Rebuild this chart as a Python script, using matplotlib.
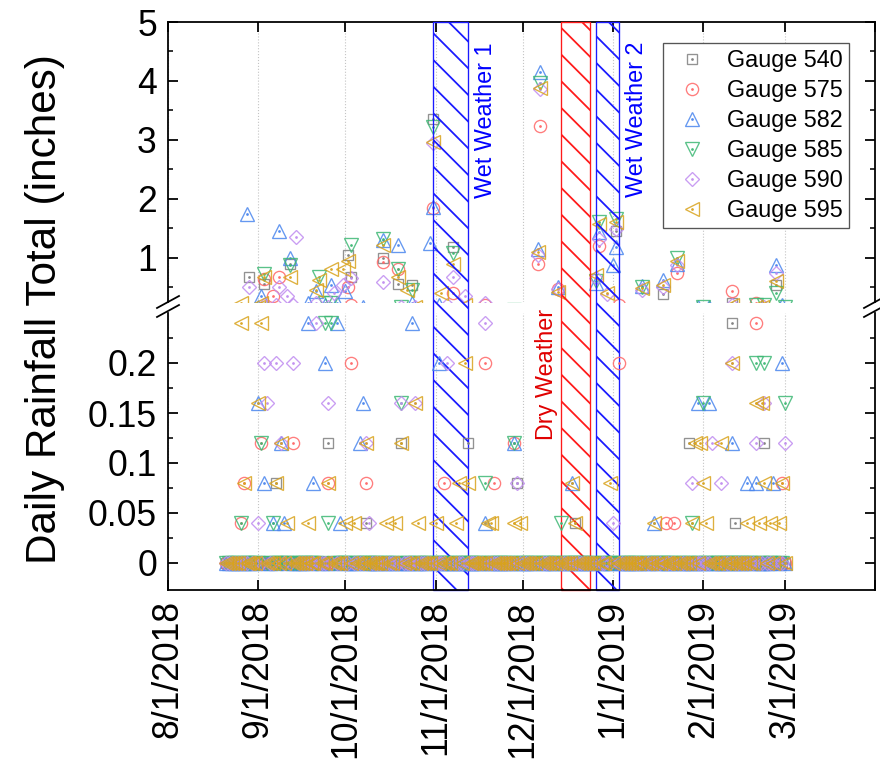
import numpy as np
import pandas as pd
import matplotlib
matplotlib.use('Agg')
import matplotlib.pyplot as plt
import matplotlib.dates as mdates
from matplotlib.lines import Line2D
from matplotlib.patches import Rectangle
from matplotlib.legend_handler import HandlerTuple

plt.rcParams['font.family'] = ['Liberation Sans', 'DejaVu Sans']
plt.rcParams['hatch.linewidth'] = 1.6

# gauges and styles
gauges = ['Gauge 540', 'Gauge 575', 'Gauge 582', 'Gauge 585', 'Gauge 590', 'Gauge 595']
colors = ['#7f7f7f', '#ff6666', '#4a86ee', '#3db874', '#c08cf0', '#d9a31c']
markers = ['s', 'o', '^', 'v', 'D', '<']
msizes = [9.5, 11, 12, 12, 8.7, 12]

first_day = '2018-08-21'
last_day = '2019-03-01'

# daily totals (inches); days not listed are 0
rain_540 = {'2018-08-29': 0.68, '2018-09-03': 0.55, '2018-09-07': 0.08, '2018-09-12': 0.90,
            '2018-09-25': 0.12, '2018-10-02': 1.04, '2018-10-03': 0.68, '2018-10-08': 0.04,
            '2018-10-14': 0.99, '2018-10-19': 0.56, '2018-10-20': 0.12, '2018-10-24': 0.54,
            '2018-10-31': 3.35, '2018-11-07': 1.18, '2018-11-12': 0.12, '2018-11-29': 0.08,
            '2018-12-19': 0.04, '2019-01-02': 1.46, '2019-01-18': 0.38, '2019-01-27': 0.12,
            '2019-02-11': 0.24, '2019-02-12': 0.04, '2019-02-22': 0.12, '2019-02-26': 0.54}
rain_575 = {'2018-08-26': 0.04, '2018-08-27': 0.08, '2018-09-02': 0.12, '2018-09-03': 0.64,
            '2018-09-06': 0.35, '2018-09-08': 0.68, '2018-09-13': 0.12, '2018-09-25': 0.08,
            '2018-10-02': 0.50, '2018-10-03': 0.20, '2018-10-08': 0.08, '2018-10-14': 0.93,
            '2018-10-19': 0.81, '2018-10-31': 1.84, '2018-11-04': 0.08, '2018-11-07': 0.40,
            '2018-11-18': 0.20, '2018-11-21': 0.08, '2018-11-28': 0.12, '2018-12-06': 0.90,
            '2018-12-07': 3.23, '2018-12-13': 0.47, '2018-12-27': 1.20, '2019-01-03': 0.20,
            '2019-01-19': 0.04, '2019-01-22': 0.04, '2019-01-23': 0.75, '2019-02-11': 0.44,
            '2019-02-19': 0.24, '2019-02-28': 0.08}
rain_582 = {'2018-08-28': 1.74, '2018-09-01': 0.16, '2018-09-02': 0.35, '2018-09-03': 0.08,
            '2018-09-06': 0.04, '2018-09-08': 1.46, '2018-09-09': 0.12, '2018-09-10': 0.04,
            '2018-09-12': 0.99, '2018-09-18': 0.24, '2018-09-20': 0.08, '2018-09-21': 0.43,
            '2018-09-24': 0.20, '2018-09-26': 0.54, '2018-09-28': 0.24, '2018-09-29': 0.04,
            '2018-10-01': 0.43, '2018-10-06': 0.12, '2018-10-07': 0.16, '2018-10-14': 1.30,
            '2018-10-19': 1.21, '2018-10-24': 0.24, '2018-10-30': 1.25, '2018-10-31': 1.86,
            '2018-11-02': 0.20, '2018-11-18': 0.04, '2018-11-28': 0.12, '2018-12-06': 1.15,
            '2018-12-07': 4.16, '2018-12-13': 0.50, '2018-12-18': 0.08, '2018-12-26': 0.58,
            '2018-12-27': 1.44, '2019-01-01': 0.87, '2019-01-02': 1.18, '2019-01-11': 0.52,
            '2019-01-15': 0.04, '2019-01-18': 0.62, '2019-01-23': 0.90, '2019-01-30': 0.16,
            '2019-02-03': 0.16, '2019-02-11': 0.12, '2019-02-16': 0.08, '2019-02-19': 0.08,
            '2019-02-25': 0.08, '2019-02-26': 0.87, '2019-02-28': 0.20}
rain_585 = {'2018-08-26': 0.04, '2018-09-02': 0.12, '2018-09-03': 0.72, '2018-09-06': 0.04,
            '2018-09-12': 0.88, '2018-09-22': 0.68, '2018-09-24': 0.24, '2018-09-25': 0.04,
            '2018-09-26': 0.24, '2018-10-03': 1.21, '2018-10-14': 1.32, '2018-10-19': 0.81,
            '2018-10-20': 0.16, '2018-10-24': 0.45, '2018-10-31': 3.22, '2018-11-07': 1.08,
            '2018-11-18': 0.08, '2018-11-28': 0.12, '2018-12-07': 3.97, '2018-12-14': 0.04,
            '2018-12-26': 0.60, '2018-12-27': 1.60, '2019-01-02': 1.65, '2019-01-11': 0.50,
            '2019-01-23': 0.99, '2019-01-28': 0.04, '2019-02-01': 0.16, '2019-02-19': 0.20,
            '2019-02-22': 0.20, '2019-02-26': 0.40, '2019-03-01': 0.16}
rain_590 = {'2018-08-29': 0.51, '2018-09-01': 0.04, '2018-09-03': 0.20, '2018-09-04': 0.16,
            '2018-09-07': 0.20, '2018-09-08': 0.51, '2018-09-09': 0.12, '2018-09-11': 0.35,
            '2018-09-13': 0.20, '2018-09-14': 1.35, '2018-09-21': 0.24, '2018-09-25': 0.16,
            '2018-09-27': 0.40, '2018-09-30': 0.53, '2018-10-03': 0.65, '2018-10-08': 0.12,
            '2018-10-09': 0.04, '2018-10-14': 0.59, '2018-10-20': 0.16, '2018-10-25': 0.16,
            '2018-10-31': 2.95, '2018-11-05': 0.20, '2018-11-07': 0.68, '2018-11-11': 0.35,
            '2018-11-18': 0.24, '2018-11-29': 0.08, '2018-12-06': 1.05, '2018-12-07': 3.86,
            '2018-12-13': 0.47, '2018-12-26': 0.65, '2018-12-27': 1.32, '2018-12-30': 0.38,
            '2019-01-01': 0.04, '2019-01-02': 1.49, '2019-01-11': 0.45, '2019-01-18': 0.50,
            '2019-01-23': 0.88, '2019-01-28': 0.08, '2019-02-04': 0.12, '2019-02-07': 0.08,
            '2019-02-11': 0.20, '2019-02-19': 0.12, '2019-02-22': 0.16, '2019-02-26': 0.75,
            '2019-03-01': 0.12}
rain_595 = {'2018-08-26': 0.24, '2018-08-27': 0.08, '2018-09-01': 0.16, '2018-09-02': 0.24,
            '2018-09-03': 0.68, '2018-09-07': 0.08, '2018-09-09': 0.12, '2018-09-11': 0.04,
            '2018-09-12': 0.68, '2018-09-18': 0.04, '2018-09-21': 0.45, '2018-09-22': 0.62,
            '2018-09-25': 0.08, '2018-09-26': 0.81, '2018-09-30': 0.81, '2018-10-01': 0.04,
            '2018-10-02': 0.95, '2018-10-04': 0.04, '2018-10-08': 0.12, '2018-10-14': 1.21,
            '2018-10-15': 0.04, '2018-10-18': 0.04, '2018-10-19': 0.68, '2018-10-20': 0.12,
            '2018-10-22': 0.45, '2018-10-25': 0.16, '2018-10-26': 0.04, '2018-10-31': 2.96,
            '2018-11-01': 0.04, '2018-11-03': 0.40, '2018-11-07': 0.90, '2018-11-08': 0.04,
            '2018-11-09': 0.08, '2018-11-11': 0.20, '2018-11-12': 0.08, '2018-11-19': 0.04,
            '2018-11-20': 0.04, '2018-11-28': 0.04, '2018-11-30': 0.04, '2018-12-06': 1.10,
            '2018-12-07': 3.88, '2018-12-13': 0.42, '2018-12-18': 0.08, '2018-12-19': 0.04,
            '2018-12-26': 0.70, '2018-12-27': 1.58, '2018-12-30': 0.40, '2018-12-31': 0.08,
            '2019-01-02': 1.60, '2019-01-11': 0.49, '2019-01-15': 0.04, '2019-01-18': 0.53,
            '2019-01-23': 0.95, '2019-01-28': 0.04, '2019-01-29': 0.12, '2019-01-31': 0.12,
            '2019-02-01': 0.08, '2019-02-02': 0.04, '2019-02-07': 0.12, '2019-02-11': 0.20,
            '2019-02-16': 0.04, '2019-02-19': 0.16, '2019-02-20': 0.04, '2019-02-21': 0.16,
            '2019-02-22': 0.08, '2019-02-24': 0.04, '2019-02-26': 0.60, '2019-02-27': 0.04,
            '2019-02-28': 0.08}
rain_all = [rain_540, rain_575, rain_582, rain_585, rain_590, rain_595]

# weather periods
periods = [('2018-10-31', '2018-11-12'), ('2018-12-14', '2018-12-24'), ('2018-12-26', '2019-01-03')]
period_colors = ['#1a1aff', '#ff1a1a', '#1a1aff']

xtick_labels = ['8/1/2018', '9/1/2018', '10/1/2018', '11/1/2018', '12/1/2018',
                '1/1/2019', '2/1/2019', '3/1/2019', '']

days = pd.date_range(first_day, last_day)
month_ticks = pd.date_range('2018-08-01', '2019-04-01', freq='MS')

W, H = 880, 765
fig = plt.figure(figsize=(W / 80, H / 80), dpi=80)
ax_top = fig.add_axes([168 / W, 1 - 302 / H, 707 / W, 280 / H])
ax_bot = fig.add_axes([168 / W, 1 - 590 / H, 707 / W, 277 / H])
ax_top.set_facecolor('none')

for ax in (ax_top, ax_bot):
    ax.set_xlim(mdates.date2num(month_ticks[0]), mdates.date2num(month_ticks[-1]))
    ax.set_xticks(mdates.date2num(month_ticks))
    ax.grid(axis='x', color='#c4c4c4', ls=':', lw=1.0, zorder=0)
    for s in ax.spines.values():
        s.set_linewidth(1.6)
    ax.tick_params(which='major', direction='in', length=9, width=1.6, labelsize=32)
    ax.tick_params(which='minor', direction='in', length=4.5, width=1.4)
    ax.tick_params(axis='y', which='both', left=True, right=True, pad=10)

for rain, c, m, ms in zip(rain_all, colors, markers, msizes):
    vals = [rain.get(d.strftime('%Y-%m-%d'), 0) for d in days]
    for ax in (ax_top, ax_bot):
        ax.plot(days, vals, ls='none', marker=m, ms=ms, mfc='none', mec=c, mew=1.2,
                alpha=0.85, zorder=3)
        ax.plot(days, vals, ls='none', marker='.', ms=3, color=c, alpha=0.85, zorder=3)

# hatched periods spanning both panels
for (a, b), c in zip(periods, period_colors):
    x0 = mdates.datestr2num(a)
    x1 = mdates.datestr2num(b)
    rect = Rectangle((x0, 0), x1 - x0, (590 - 22) / 277, transform=ax_bot.get_xaxis_transform(),
                     facecolor='none', edgecolor=c, hatch='\\', lw=1.2, clip_on=False, zorder=2)
    ax_bot.add_patch(rect)

ax_top.text(mdates.datestr2num('2018-11-18'), 4.66, 'Wet Weather 1', rotation=90, color='#0000ff',
            fontsize=21, ha='center', va='top')
ax_top.text(mdates.datestr2num('2019-01-09'), 4.66, 'Wet Weather 2', rotation=90, color='#0000ff',
            fontsize=21, ha='center', va='top')
ax_bot.text(mdates.datestr2num('2018-12-09'), 0.123, 'Dry Weather', rotation=90, color='#e00000',
            fontsize=21, ha='center', va='bottom', clip_on=False)

# top panel
ax_top.set_ylim(0.25, 5)
ax_top.set_yticks([1, 2, 3, 4, 5])
ax_top.set_yticks([0.5, 1.5, 2.5, 3.5, 4.5], minor=True)
ax_top.spines['bottom'].set_visible(False)
ax_top.tick_params(axis='x', bottom=False, top=True, labelbottom=False)

# bottom panel
ax_bot.set_ylim(-0.027, 0.25)
ax_bot.set_yticks([0, 0.05, 0.1, 0.15, 0.2])
ax_bot.set_yticklabels(['0', '0.05', '0.1', '0.15', '0.2'])
ax_bot.set_yticks([0.025, 0.075, 0.125, 0.175, 0.225], minor=True)
ax_bot.spines['top'].set_visible(False)
ax_bot.tick_params(axis='x', top=False, bottom=True, pad=9)
ax_bot.set_xticklabels(xtick_labels, rotation=90, ha='center', va='top')

# axis break marks
for xc in (168, 875):
    for yc in (302, 311):
        fig.add_artist(Line2D([(xc - 11) / W, (xc + 11) / W], [1 - (yc + 6) / H, 1 - (yc - 6) / H],
                              color='black', lw=1.6, transform=fig.transFigure))

fig.text(45 / W, 1 - 309 / H, 'Daily Rainfall Total (inches)', rotation=90, ha='center', va='center',
         fontsize=38)

handles = [(Line2D([], [], ls='none', marker=m, ms=ms, mfc='none', mec=c, mew=1.2, alpha=0.85),
            Line2D([], [], ls='none', marker='.', ms=3, color=c, alpha=0.85))
           for c, m, ms in zip(colors, markers, msizes)]
leg = ax_top.legend(handles, gauges, handler_map={tuple: HandlerTuple(ndivide=1)},
                    loc='upper right', bbox_to_anchor=((849 - 168) / 707, (302 - 43) / 280),
                    borderaxespad=0, fontsize=21, fancybox=False, framealpha=1, edgecolor='#555555',
                    borderpad=0.25, labelspacing=0.3, handlelength=2.0, handletextpad=0.5)
leg.get_frame().set_linewidth(1.2)

fig.savefig('out.png', dpi=80)
